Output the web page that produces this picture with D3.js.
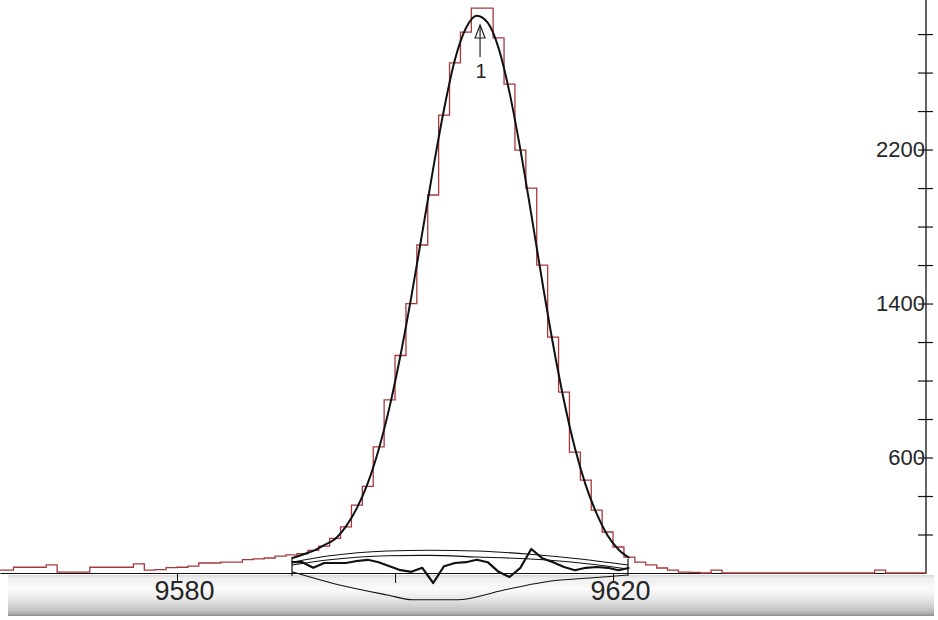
<!DOCTYPE html>
<html>
<head>
<meta charset="utf-8">
<script src="https://cdn.jsdelivr.net/npm/d3@7/dist/d3.min.js"></script>
<style>
    html, body { margin: 0; padding: 0; background: #fff; }
    svg { display: block; }
    .lbl { font-family: "Liberation Sans Narrow", "Liberation Sans", sans-serif; fill: #262626; }
</style>
</head>
<body>
<svg id="spectrum" width="938" height="620"></svg>
<script>
// measured spectrum, one count per channel starting at firstChannel
var firstChannel = 9563;
var counts = [15, 15, 30, 30, 30, 42, 5, 5, 5, 30,
    30, 30, 30, 47, 15, 18, 28, 30, 36, 52,
    52, 57, 57, 70, 73, 78, 88, 94, 100, 118,
    140, 180, 240, 353, 450, 655, 899, 1130, 1400, 1704,
    1964, 2379, 2650, 2810, 2935, 2935, 2780, 2540, 2197, 2000,
    1600, 1226, 940, 628, 483, 327, 213, 135, 83, 57,
    42, 26, 15, 5, 3, 0, 15, 0, 0, 0,
    0, 0, 0, 0, 0, 0, 0, 0, 0, 0,
    0, 15, 0, 0, 0, 0];

// fitted peak, one value per channel of the region of interest
var fitFirst = 9590;
var fitValues = [77, 95, 115, 145, 177, 242, 337, 467, 642, 863,
    1131, 1437, 1768, 2101, 2411, 2668, 2830, 2895, 2859, 2727,
    2497, 2200, 1863, 1516, 1187, 895, 649, 455, 308, 195,
    122, 78];

// residuals of the fit (in sigma), same channels
var residuals = [0.6, 0.6, -0.1, 0.5, 0.5, 0.5, 0.75, 0.9, 0.6, 0.1,
    -0.4, -0.6, -0.1, -2.0, 0.1, 0.5, 0.6, 0.9, 0.6, -0.6,
    -1.25, -0.1, 2.25, 1.1, 0.6, 0, -0.4, -0.1, 0, -0.1,
    -0.4, -0.1];

// region limits and residual envelopes
var roi = [9590.55, 9621.37];
var envPos = [9590.55, 9594.0, 9599.3, 9603.2, 9607.5, 9612.4, 9617.0, 9621.37];
var envOuter = [0.6, 1.4, 2.0, 2.1, 2.0, 1.6, 1.0, 0.25];
var envInner = [0.25, 0.9, 1.4, 1.45, 1.25, 1.0, 0.5, -0.25];
var lowPos = [9590.55, 9594.9, 9599.3, 9601.65, 9605.7, 9609.9, 9613.6, 9619.1, 9621.37];
var envLower = [-0.6, -2.25, -3.5, -4.1, -4.1, -2.9, -1.9, -1.25, -1.0];

// peak marker
var peakPos = 9607.8;
var peakLabel = "1";

// axes
var xTicks = [9580, 9600, 9620];
var xLabelled = [9580, 9620];
var yTicks = [200, 400, 600, 800, 1000, 1200, 1400, 1600, 1800, 2000, 2200, 2400, 2600, 2800];
var yLabelled = [600, 1400, 2200];

var svg = d3.select("#spectrum"),
    width = +svg.attr("width"),
    height = +svg.attr("height");

var plotRight = 926, baseY = 573;

var x = d3.scaleLinear().domain([9563.76, 9648.71]).range([0, plotRight]);
var y = d3.scaleLinear().domain([0, 2977]).range([baseY, 0]);
var yRes = d3.scaleLinear().domain([-5, 5]).range([607, 527]);

// bottom status bar with a grey gradient
var defs = svg.append("defs");
var grad = defs.append("linearGradient")
    .attr("id", "barGrad")
    .attr("x1", 0).attr("y1", 0).attr("x2", 0).attr("y2", 1);
[[0, "#d9d9d9"], [0.08, "#eeeeee"], [0.35, "#fbfbfb"], [0.6, "#e6e6e6"], [0.85, "#c4c4c4"], [0.95, "#a9a9a9"], [1, "#8a8a8a"]]
    .forEach(function (s) {
        grad.append("stop").attr("offset", s[0]).attr("stop-color", s[1]);
    });
svg.append("rect")
    .attr("x", 8).attr("y", baseY + 2)
    .attr("width", width - 12).attr("height", 41)
    .attr("fill", "url(#barGrad)");

defs.append("clipPath").attr("id", "plotClip")
    .append("rect").attr("x", 0).attr("y", 0).attr("width", plotRight).attr("height", height);

// axes
var xAxis = d3.axisBottom(x)
    .tickValues(xTicks)
    .tickSize(10)
    .tickSizeOuter(0)
    .tickPadding(-2)
    .tickFormat(function (d) {
        return xLabelled.indexOf(d) >= 0 ? d : "";
    });

var gx = svg.append("g")
    .attr("transform", "translate(0," + baseY + ")")
    .call(xAxis);
gx.select(".domain").attr("stroke", "#111").attr("stroke-width", 1.2);
gx.selectAll("line").attr("stroke", "#111");
gx.selectAll("text")
    .attr("class", "lbl")
    .attr("dx", 7)
    .style("font-size", "27px");

var yAxis = d3.axisLeft(y)
    .tickValues(yTicks)
    .tickSize(8)
    .tickSizeOuter(0)
    .tickPadding(-7)
    .tickFormat(function (d) {
        return yLabelled.indexOf(d) >= 0 ? d : "";
    });

var gy = svg.append("g")
    .attr("transform", "translate(" + plotRight + ",0)")
    .call(yAxis);
gy.select(".domain").attr("stroke", "#111").attr("stroke-width", 1.3).attr("d", "M0," + baseY + "V0");
gy.selectAll("line").attr("stroke", "#111").attr("x1", 7).attr("stroke-width", 1.2);
gy.selectAll("text")
    .attr("class", "lbl")
    .style("font-size", "22px");

var plot = svg.append("g").attr("clip-path", "url(#plotClip)");

// spectrum histogram
var histPts = counts.map(function (v, i) {
    return [firstChannel + i, v];
});
histPts.push([firstChannel + counts.length, counts[counts.length - 1]]);

plot.append("path")
    .datum(histPts)
    .attr("fill", "none")
    .attr("stroke", "#a8383c")
    .attr("stroke-width", 1.3)
    .attr("d", d3.line()
        .x(function (d) { return x(d[0]); })
        .y(function (d) { return y(d[1]); })
        .curve(d3.curveStepAfter));

// fitted curve
plot.append("path")
    .datum(fitValues)
    .attr("fill", "none")
    .attr("stroke", "#111")
    .attr("stroke-width", 2)
    .attr("d", d3.line()
        .x(function (d, i) { return x(fitFirst + i + 0.5); })
        .y(function (d) { return y(d); })
        .curve(d3.curveMonotoneX));

// residual envelopes
function envLine(pos) {
    return d3.line()
        .x(function (d, i) { return x(pos[i]); })
        .y(function (d) { return yRes(d); })
        .curve(d3.curveMonotoneX);
}
[[envPos, envOuter], [envPos, envInner], [lowPos, envLower]].forEach(function (e) {
    plot.append("path")
        .datum(e[1])
        .attr("fill", "none")
        .attr("stroke", "#111")
        .attr("stroke-width", 1.1)
        .attr("d", envLine(e[0]));
});

// region limits
plot.selectAll(".roi")
    .data(roi)
    .enter().append("line")
    .attr("class", "roi")
    .attr("x1", function (d) { return x(d); })
    .attr("x2", function (d) { return x(d); })
    .attr("y1", yRes(1.0))
    .attr("y2", yRes(-1.1))
    .attr("stroke", "#111")
    .attr("stroke-width", 1.2);

// residuals
plot.append("path")
    .datum(residuals)
    .attr("fill", "none")
    .attr("stroke", "#111")
    .attr("stroke-width", 2.2)
    .attr("stroke-linejoin", "round")
    .attr("d", d3.line()
        .x(function (d, i) { return x(fitFirst + i + 0.5); })
        .y(function (d) { return yRes(d); }));

// peak marker
var px = x(peakPos);
var mk = svg.append("g").attr("stroke", "#222").attr("stroke-width", 1.2).attr("fill", "none");
mk.append("line").attr("x1", px).attr("x2", px).attr("y1", 25).attr("y2", 57);
mk.append("path").attr("d", "M" + (px - 5) + ",38 L" + px + ",25 L" + (px + 5) + ",38 Z");
svg.append("text")
    .attr("class", "lbl")
    .attr("x", px + 1)
    .attr("y", 78)
    .attr("text-anchor", "middle")
    .style("font-size", "20px")
    .text(peakLabel);
</script>
</body>
</html>
